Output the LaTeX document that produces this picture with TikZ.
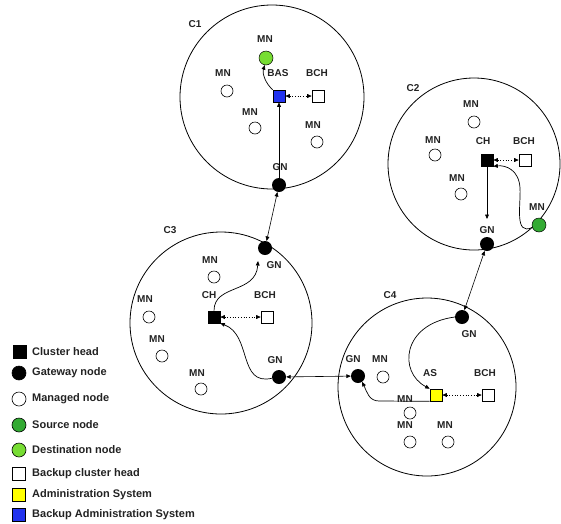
\documentclass[tikz,border=0pt]{standalone}
\usepackage{fontspec}
\setmainfont{Liberation Sans}
\usetikzlibrary{arrows.meta}
\definecolor{destgreen}{HTML}{77DD33}
\definecolor{srcgreen}{HTML}{33AA33}
\definecolor{basblue}{HTML}{2233EE}
\definecolor{asyellow}{HTML}{FFFF00}
\definecolor{txt}{HTML}{222222}
\begin{document}
\begin{tikzpicture}[x=1pt,y=-1pt,
  >={Triangle[length=4.5pt,width=3.8pt]},
  cluster/.style={draw, circle, line width=0.8pt, minimum size=#1, inner sep=0pt},
  mnode/.style={draw, circle, line width=0.6pt, fill=white, minimum size=12pt, inner sep=0pt},
  gnode/.style={circle, fill=black, minimum size=14pt, inner sep=0pt},
  greennode/.style={draw, circle, line width=0.5pt, fill=#1, minimum size=14pt, inner sep=0pt},
  sqnode/.style={draw, rectangle, line width=0.6pt, fill=#1, minimum size=12pt, inner sep=0pt},
  lbl/.style={font=\fontsize{10}{11}\selectfont\bfseries, text=txt, inner sep=0pt},
  legsq/.style={draw, rectangle, line width=0.6pt, fill=#1, minimum size=13.5pt, inner sep=0pt},
  legci/.style={draw, circle, line width=0.6pt, fill=#1, minimum size=14pt, inner sep=0pt},
  legtext/.style={font=\fontsize{11}{12}\selectfont\bfseries, text=txt, anchor=west, inner sep=0pt},
  link/.style={<->, line width=0.6pt},
  flow/.style={->, line width=0.7pt},
  dotlink/.style={<->, dotted, line width=0.7pt}
]
\useasboundingbox (0,0) rectangle (561,523);

% ---------- Cluster C1 ----------
\node[cluster=184pt] (c1) at (272,97) {};
\node[lbl] (c1l) at (195,24) {C1};
\node[greennode=destgreen] (dst) at (266,58) {};
\node[lbl] (dstl) at (265,39) {MN};
\node[sqnode=basblue] (bas) at (279,96) {};
\node[lbl] (basl) at (278,73) {BAS};
\node[sqnode=white] (bch1) at (318,96) {};
\node[lbl] (bch1l) at (317,73) {BCH};
\node[mnode] (m11) at (227,91) {};
\node[lbl] (m11l) at (223,73) {MN};
\node[mnode] (m12) at (255,128) {};
\node[lbl] (m12l) at (250,112) {MN};
\node[mnode] (m13) at (317,142) {};
\node[lbl] (m13l) at (313,125) {MN};
\node[gnode] (gn1) at (279,185) {};
\node[lbl] (gn1l) at (280,167) {GN};

% ---------- Cluster C2 ----------
\node[cluster=172pt] (c2) at (474,164) {};
\node[lbl] (c2l) at (413,88) {C2};
\node[mnode] (m21) at (474,122) {};
\node[lbl] (m21l) at (471,104) {MN};
\node[mnode] (m22) at (435,155) {};
\node[lbl] (m22l) at (433,140) {MN};
\node[sqnode=black] (ch2) at (487,160) {};
\node[lbl] (ch2l) at (483,141) {CH};
\node[sqnode=white] (bch2) at (525,160) {};
\node[lbl] (bch2l) at (524,141) {BCH};
\node[mnode] (m23) at (461,194) {};
\node[lbl] (m23l) at (457,178) {MN};
\node[greennode=srcgreen] (src) at (539,225) {};
\node[lbl] (srcl) at (537,207) {MN};
\node[gnode] (gn2) at (487,244) {};
\node[lbl] (gn2l) at (487,230) {GN};
\coordinate (ch2end) at (487,219);

% ---------- Cluster C3 ----------
\node[cluster=182pt] (c3) at (221,323) {};
\node[lbl] (c3l) at (170,230) {C3};
\node[gnode] (gn3t) at (265,248) {};
\node[lbl] (gn3tl) at (274,265) {GN};
\node[mnode] (m31) at (214,277) {};
\node[lbl] (m31l) at (210,260) {MN};
\node[sqnode=black] (ch3) at (214,317) {};
\node[lbl] (ch3l) at (209,295) {CH};
\node[sqnode=white] (bch3) at (267,317) {};
\node[lbl] (bch3l) at (265,295) {BCH};
\node[mnode] (m32) at (149,317) {};
\node[lbl] (m32l) at (145,299) {MN};
\node[mnode] (m33) at (162,356) {};
\node[lbl] (m33l) at (157,339) {MN};
\node[mnode] (m34) at (201,389) {};
\node[lbl] (m34l) at (197,373) {MN};
\node[gnode] (gn3b) at (279,377) {};
\node[lbl] (gn3bl) at (275,360) {GN};
\coordinate (ch3end) at (258,261);

% ---------- Cluster C4 ----------
\node[cluster=178pt] (c4) at (427,387) {};
\node[lbl] (c4l) at (390,295) {C4};
\node[gnode] (gn4t) at (462,317) {};
\node[lbl] (gn4tl) at (469,334) {GN};
\node[gnode] (gn4l) at (358,376) {};
\node[lbl] (gn4ll) at (353,359) {GN};
\node[mnode] (m41) at (383,377) {};
\node[lbl] (m41l) at (380,359) {MN};
\node[sqnode=asyellow] (as) at (436,395) {};
\node[lbl] (asl) at (430,373) {AS};
\node[sqnode=white] (bch4) at (488,395) {};
\node[lbl] (bch4l) at (485,373) {BCH};
\node[mnode] (m42) at (410,413) {};
\node[mnode] (m43) at (410,442) {};
\node[lbl] (m43l) at (405,425) {MN};
\node[mnode] (m44) at (448,442) {};
\node[lbl] (m44l) at (445,425) {MN};

% ---------- connectors ----------
\draw[link] (gn1) -- (gn3t);
\draw[link] (gn3b) -- (gn4l);
\draw[link] (gn2) -- (gn4t);

\draw[flow] (gn1.north) -- (bas.south);
\draw[flow] (bas.north west) .. controls (266,84) and (262,74) .. (dst.-100);
\draw[dotlink] (bas) -- (bch1);

\draw[flow] (ch2.south) -- (ch2end);
\draw[flow] (src.200) .. controls (514,236) and (521,205) .. (520,188) .. controls (519,170) and (506,165) .. (ch2.south east);
\draw[dotlink] (ch2) -- (bch2);

\draw[flow] (ch3.north) .. controls (214,284) and (256,294) .. (ch3end);
\draw[flow] (gn3b.190) .. controls (238,386) and (252,335) .. (ch3.south east);
\draw[dotlink] (ch3) -- (bch3);

\draw[flow] (gn4t.west) .. controls (402,324) and (398,372) .. (as.north west);
\draw[flow] (as.south west) -- (379,401) .. controls (369,401) and (367,392) .. (gn4l.-55);
\draw[dotlink] (as) -- (bch4);
\node[lbl] (m42l) at (405,399) {MN};

% ---------- legend ----------
\node[legsq=black] (k1) at (20,352) {};
\node[legtext] (k1t) at (32,352) {Cluster head};
\node[legci=black] (k2) at (19,373) {};
\node[legtext] (k2t) at (32,373) {Gateway node};
\node[legci=white] (k3) at (19,399) {};
\node[legtext] (k3t) at (32,399) {Managed node};
\node[legci=srcgreen] (k4) at (19,425) {};
\node[legtext] (k4t) at (32,425) {Source node};
\node[legci=destgreen] (k5) at (19,450) {};
\node[legtext] (k5t) at (32,450) {Destination node};
\node[legsq=white] (k6) at (19,474) {};
\node[legtext] (k6t) at (32,474) {Backup cluster head};
\node[legsq=asyellow] (k7) at (19,495) {};
\node[legtext] (k7t) at (32,495) {Administration System};
\node[legsq=basblue] (k8) at (19,515) {};
\node[legtext] (k8t) at (32,515) {Backup Administration System};
\end{tikzpicture}
\end{document}
